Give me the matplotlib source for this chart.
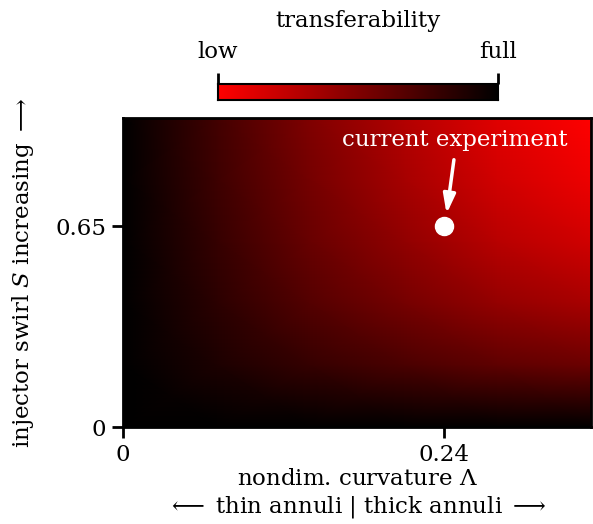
"""
transferability map: curvature vs injector swirl
"""
import numpy as np
from matplotlib import pyplot as plt
from matplotlib.colors import LinearSegmentedColormap

# grid
curvature = [0.0, 0.07, 0.14, 0.21, 0.28, 0.35]
swirl = [0.0, 0.2, 0.4, 0.6, 0.8, 1.0]
transfer = [
    [0.00, 0.00, 0.00, 0.00, 0.00, 0.00],
    [0.00, 0.11, 0.21, 0.29, 0.37, 0.42],
    [0.00, 0.17, 0.33, 0.46, 0.58, 0.66],
    [0.00, 0.21, 0.41, 0.57, 0.72, 0.82],
    [0.00, 0.24, 0.46, 0.65, 0.82, 0.93],
    [0.00, 0.26, 0.50, 0.70, 0.88, 1.00],
]
current_lam = 0.24
current_swirl = 0.65

plt.rcParams['font.family'] = ['DejaVu Serif']
plt.rcParams['mathtext.fontset'] = 'dejavuserif'
plt.rcParams['font.size'] = 16.5

cmap = LinearSegmentedColormap.from_list('blackred', ['black', 'red'])

fig = plt.figure(figsize=(5.93, 5.24), dpi=100)
ax = fig.add_axes([0.2074, 0.1851, 0.7892, 0.5897])

ax.pcolormesh(curvature, swirl, np.array(transfer), cmap=cmap,
              shading='gouraud', vmin=0, vmax=1)
ax.set_xlim(0, 0.35)
ax.set_ylim(0, 1.0)

ax.set_xticks([0, 0.24])
ax.set_xticklabels(['0', '0.24'])
ax.set_yticks([0, 0.65])
ax.set_yticklabels(['0', '0.65'])
ax.tick_params(length=8, width=2, pad=4)
for s in ax.spines.values():
    s.set_linewidth(2)

ax.set_xlabel('nondim. curvature $\\Lambda$\n'
              '$\\longleftarrow$ thin annuli | thick annuli $\\longrightarrow$',
              linespacing=1.2, labelpad=2)
ax.set_ylabel('injector swirl $S$ increasing $\\longrightarrow$', labelpad=14)

# current experiment marker
ax.plot(current_lam, current_swirl, 'o', color='white', markersize=13)
ax.text(0.248, 0.93, 'current experiment', color='white',
        ha='center', va='center')
ax.annotate('', xy=(0.242, 0.69), xytext=(0.2475, 0.865),
            arrowprops=dict(arrowstyle='-|>,head_width=0.22,head_length=0.7',
                            color='white', lw=2.5, shrinkA=0, shrinkB=0))

# colorbar on top: red = low, black = full
cax = fig.add_axes([0.3676, 0.8092, 0.4722, 0.0305])
grad = np.linspace(1, 0, 256)[None, :]
cax.imshow(grad, aspect='auto', cmap=cmap, extent=[0, 1, 0, 1])
cax.set_yticks([])
cax.set_xticks([0, 1])
cax.set_xticklabels(['low', 'full'])
cax.xaxis.set_ticks_position('top')
cax.xaxis.set_label_position('top')
cax.tick_params(length=8, width=2, pad=7)
cax.set_xlabel('transferability', labelpad=10)
for s in cax.spines.values():
    s.set_linewidth(1.5)

fig.savefig('out.png', dpi=100)
